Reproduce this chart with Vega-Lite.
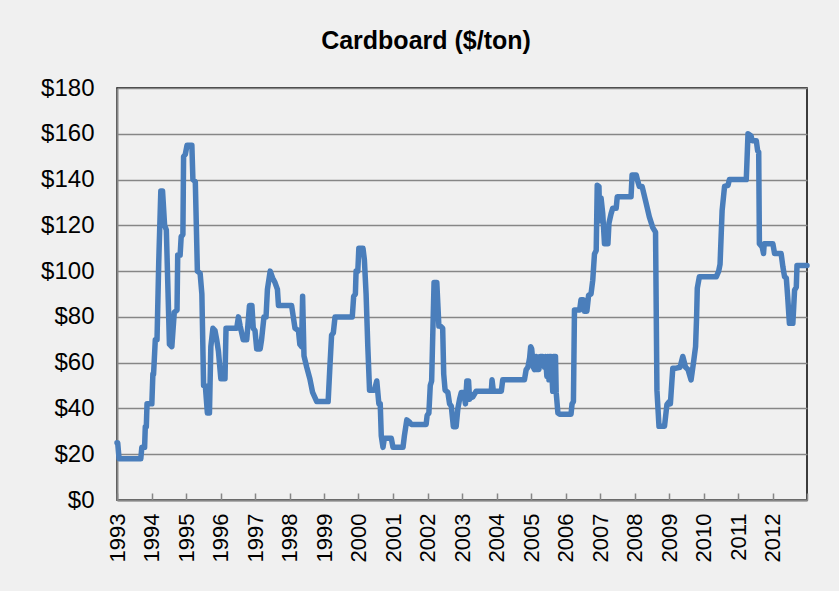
{
  "$schema": "https://vega.github.io/schema/vega-lite/v6.json",
  "width": 690,
  "height": 412,
  "autosize": "none",
  "padding": {"left": 117, "top": 88, "right": 32, "bottom": 91},
  "background": "#f0f0f0",
  "title": {"text": "Cardboard ($/ton)", "font": "Liberation Sans", "fontSize": 25, "fontWeight": "bold", "color": "#000000", "anchor": "middle", "baseline": "alphabetic", "offset": 2, "dx": -36},
  "config": {
    "view": {"stroke": "#000000", "strokeWidth": 1.5, "fill": "#f0f0f0"},
    "axis": {"labelFont": "Liberation Sans", "labelColor": "#000000", "domainColor": "#868686", "domainWidth": 2, "tickColor": "#868686", "gridColor": "#868686", "gridWidth": 1.5}
  },
  "data": {"values": [
    {"t":1993.00,"v":25},{"t":1993.02,"v":25},{"t":1993.06,"v":18},{"t":1993.69,"v":18},{"t":1993.72,"v":23},{"t":1993.80,"v":23},{"t":1993.82,"v":32},{"t":1993.85,"v":32},{"t":1993.87,"v":42},{"t":1994.01,"v":42},{"t":1994.04,"v":55},{"t":1994.06,"v":55},{"t":1994.11,"v":70},{"t":1994.16,"v":70},{"t":1994.21,"v":104},{"t":1994.27,"v":135},{"t":1994.32,"v":135},{"t":1994.38,"v":120},{"t":1994.43,"v":118},{"t":1994.52,"v":68},{"t":1994.59,"v":67},{"t":1994.66,"v":82},{"t":1994.74,"v":83},{"t":1994.76,"v":107},{"t":1994.83,"v":107},{"t":1994.86,"v":115},{"t":1994.91,"v":116},{"t":1994.93,"v":150},{"t":1994.98,"v":151},{"t":1995.03,"v":155},{"t":1995.17,"v":155},{"t":1995.20,"v":140},{"t":1995.27,"v":139},{"t":1995.33,"v":100},{"t":1995.41,"v":99},{"t":1995.46,"v":90},{"t":1995.51,"v":50},{"t":1995.56,"v":50},{"t":1995.62,"v":38},{"t":1995.68,"v":38},{"t":1995.72,"v":67},{"t":1995.78,"v":75},{"t":1995.84,"v":74},{"t":1995.89,"v":70},{"t":1995.94,"v":65},{"t":1996.01,"v":53},{"t":1996.13,"v":53},{"t":1996.16,"v":75},{"t":1996.47,"v":75},{"t":1996.52,"v":80},{"t":1996.57,"v":76},{"t":1996.66,"v":70},{"t":1996.76,"v":70},{"t":1996.84,"v":85},{"t":1996.91,"v":85},{"t":1996.95,"v":75},{"t":1997.00,"v":74},{"t":1997.05,"v":66},{"t":1997.15,"v":66},{"t":1997.19,"v":70},{"t":1997.26,"v":80},{"t":1997.32,"v":80},{"t":1997.36,"v":92},{"t":1997.44,"v":100},{"t":1997.51,"v":97},{"t":1997.58,"v":95},{"t":1997.65,"v":92},{"t":1997.68,"v":85},{"t":1998.06,"v":85},{"t":1998.11,"v":80},{"t":1998.16,"v":75},{"t":1998.26,"v":74},{"t":1998.30,"v":68},{"t":1998.35,"v":67},{"t":1998.38,"v":89},{"t":1998.42,"v":63},{"t":1998.50,"v":58},{"t":1998.59,"v":53},{"t":1998.67,"v":47},{"t":1998.79,"v":43},{"t":1999.12,"v":43},{"t":1999.17,"v":58},{"t":1999.22,"v":72},{"t":1999.27,"v":73},{"t":1999.32,"v":80},{"t":1999.82,"v":80},{"t":1999.86,"v":89},{"t":1999.91,"v":90},{"t":1999.93,"v":100},{"t":1999.98,"v":100},{"t":2000.01,"v":110},{"t":2000.13,"v":110},{"t":2000.17,"v":105},{"t":2000.22,"v":90},{"t":2000.27,"v":67},{"t":2000.32,"v":48},{"t":2000.46,"v":48},{"t":2000.53,"v":52},{"t":2000.59,"v":42},{"t":2000.63,"v":42},{"t":2000.66,"v":28},{"t":2000.71,"v":23},{"t":2000.75,"v":27},{"t":2000.95,"v":27},{"t":2001.00,"v":23},{"t":2001.29,"v":23},{"t":2001.33,"v":28},{"t":2001.40,"v":35},{"t":2001.48,"v":34},{"t":2001.53,"v":33},{"t":2001.96,"v":33},{"t":2001.99,"v":37},{"t":2002.04,"v":38},{"t":2002.08,"v":50},{"t":2002.12,"v":52},{"t":2002.19,"v":95},{"t":2002.27,"v":95},{"t":2002.33,"v":76},{"t":2002.37,"v":76},{"t":2002.44,"v":75},{"t":2002.47,"v":55},{"t":2002.51,"v":48},{"t":2002.59,"v":47},{"t":2002.64,"v":42},{"t":2002.69,"v":41},{"t":2002.75,"v":32},{"t":2002.83,"v":32},{"t":2002.88,"v":40},{"t":2002.93,"v":44},{"t":2002.98,"v":47},{"t":2003.05,"v":47},{"t":2003.10,"v":42},{"t":2003.14,"v":52},{"t":2003.19,"v":52},{"t":2003.22,"v":44},{"t":2003.27,"v":46},{"t":2003.31,"v":45},{"t":2003.41,"v":47.5},{"t":2003.85,"v":47.5},{"t":2003.87,"v":52.5},{"t":2003.91,"v":47.5},{"t":2004.14,"v":47.5},{"t":2004.18,"v":52.5},{"t":2004.81,"v":52.5},{"t":2004.86,"v":57},{"t":2004.91,"v":58},{"t":2004.96,"v":62},{"t":2004.99,"v":67},{"t":2005.02,"v":66},{"t":2005.07,"v":58},{"t":2005.10,"v":57},{"t":2005.15,"v":62.7},{"t":2005.17,"v":57},{"t":2005.23,"v":57},{"t":2005.27,"v":62.7},{"t":2005.34,"v":62.7},{"t":2005.39,"v":58},{"t":2005.42,"v":62.7},{"t":2005.46,"v":54},{"t":2005.49,"v":62.7},{"t":2005.52,"v":52.5},{"t":2005.54,"v":62.7},{"t":2005.58,"v":62.7},{"t":2005.63,"v":47.5},{"t":2005.65,"v":62.7},{"t":2005.71,"v":62.7},{"t":2005.73,"v":47},{"t":2005.78,"v":38},{"t":2005.83,"v":37.5},{"t":2006.16,"v":37.5},{"t":2006.19,"v":42},{"t":2006.23,"v":43},{"t":2006.26,"v":83},{"t":2006.41,"v":83},{"t":2006.45,"v":87.5},{"t":2006.52,"v":87.5},{"t":2006.55,"v":82.5},{"t":2006.62,"v":82.5},{"t":2006.67,"v":89.5},{"t":2006.74,"v":90},{"t":2006.79,"v":96},{"t":2006.84,"v":107.5},{"t":2006.89,"v":109},{"t":2006.92,"v":137.5},{"t":2006.97,"v":137},{"t":2006.99,"v":122},{"t":2007.03,"v":132},{"t":2007.08,"v":125},{"t":2007.13,"v":112},{"t":2007.23,"v":112},{"t":2007.26,"v":121},{"t":2007.32,"v":125},{"t":2007.37,"v":127.5},{"t":2007.47,"v":127.5},{"t":2007.50,"v":132.5},{"t":2007.90,"v":132.5},{"t":2007.93,"v":142},{"t":2008.05,"v":142},{"t":2008.10,"v":139},{"t":2008.14,"v":137},{"t":2008.22,"v":137},{"t":2008.34,"v":129.5},{"t":2008.43,"v":123.7},{"t":2008.53,"v":119},{"t":2008.61,"v":117},{"t":2008.65,"v":48},{"t":2008.71,"v":32.2},{"t":2008.87,"v":32.2},{"t":2008.94,"v":41.7},{"t":2009.01,"v":43},{"t":2009.04,"v":42},{"t":2009.11,"v":57.6},{"t":2009.21,"v":57.6},{"t":2009.32,"v":58},{"t":2009.40,"v":62.7},{"t":2009.48,"v":58},{"t":2009.55,"v":57},{"t":2009.64,"v":52.5},{"t":2009.71,"v":60},{"t":2009.77,"v":67},{"t":2009.80,"v":80},{"t":2009.82,"v":92.5},{"t":2009.88,"v":97.5},{"t":2010.37,"v":97.5},{"t":2010.44,"v":100},{"t":2010.48,"v":103},{"t":2010.54,"v":126.5},{"t":2010.61,"v":137},{"t":2010.71,"v":137.5},{"t":2010.75,"v":140},{"t":2011.24,"v":140},{"t":2011.29,"v":160},{"t":2011.38,"v":159},{"t":2011.41,"v":157},{"t":2011.53,"v":157},{"t":2011.57,"v":152.5},{"t":2011.60,"v":152},{"t":2011.62,"v":112},{"t":2011.70,"v":110.6},{"t":2011.74,"v":107.7},{"t":2011.76,"v":112},{"t":2012.01,"v":112},{"t":2012.06,"v":107.7},{"t":2012.25,"v":107.7},{"t":2012.30,"v":102},{"t":2012.35,"v":97.5},{"t":2012.40,"v":97},{"t":2012.44,"v":88.8},{"t":2012.49,"v":77.2},{"t":2012.59,"v":77.2},{"t":2012.64,"v":91.7},{"t":2012.69,"v":93},{"t":2012.71,"v":102.5},{"t":2013.00,"v":102.5}
  ]},
  "mark": {"type": "line", "color": "#4a7ebb", "strokeWidth": 5.5, "strokeJoin": "round", "strokeCap": "round"},
  "encoding": {
    "x": {"field": "t", "type": "quantitative", "title": null,
      "scale": {"domain": [1993, 2013], "nice": false, "zero": false},
      "axis": {"values": [1993,1994,1995,1996,1997,1998,1999,2000,2001,2002,2003,2004,2005,2006,2007,2008,2009,2010,2011,2012,2013], "format": "d", "labelAngle": -90, "labelFontSize": 22, "labelPadding": 20, "tickSize": -7, "tickWidth": 1.5, "grid": false, "labelOverlap": false, "labelExpr": "datum.value > 2012 ? '' : datum.label"}},
    "y": {"field": "v", "type": "quantitative", "title": null,
      "scale": {"domain": [0, 180], "nice": false},
      "axis": {"values": [0,20,40,60,80,100,120,140,160,180], "format": "$d", "labelFontSize": 24, "labelPadding": 23, "ticks": false, "grid": true, "labelOverlap": false}}
  }
}
